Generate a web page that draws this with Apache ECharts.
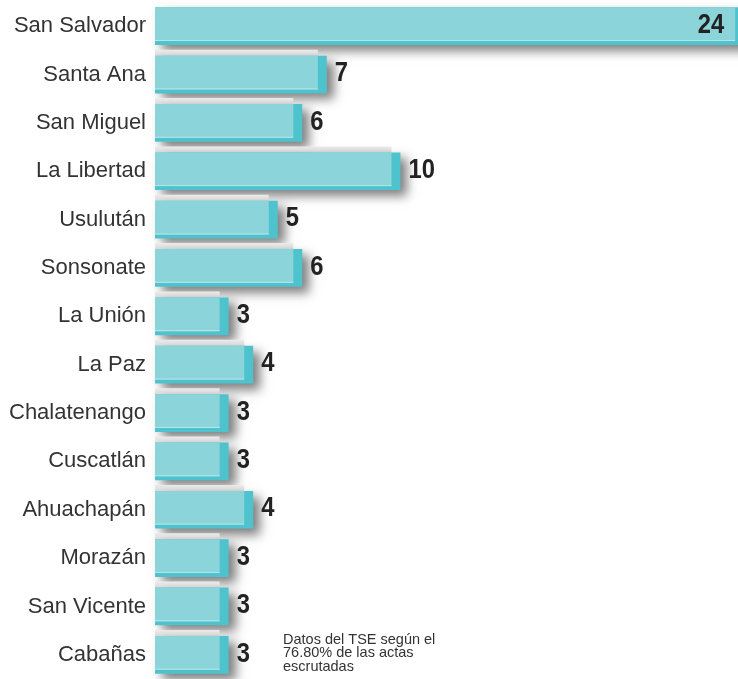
<!DOCTYPE html>
<html>
<head>
<meta charset="utf-8">
<script src="https://cdn.jsdelivr.net/npm/echarts@6/dist/echarts.min.js"></script>
<style>
  html, body { margin: 0; padding: 0; background: #fff; }
  #chart { width: 738px; height: 679px; }
</style>
</head>
<body>
<div id="chart"></div>
<script>
// diputados por departamento
const regions = ['San Salvador', 'Santa Ana', 'San Miguel', 'La Libertad', 'Usulután', 'Sonsonate',
  'La Unión', 'La Paz', 'Chalatenango', 'Cuscatlán', 'Ahuachapán', 'Morazán', 'San Vicente', 'Cabañas']
const seats = [24, 7, 6, 10, 5, 6, 3, 4, 3, 3, 4, 3, 3, 3]
const note = ['Datos del TSE según el', '76.80% de las actas', 'escrutadas']

const maxSeats = Math.max(...seats)

const chart = echarts.init(document.getElementById('chart'))

function renderBar (params, api) {
  const value = api.value(0)
  const row = api.value(1)
  const start = api.coord([0, row])
  const end = api.coord([value, row])
  const h = api.size([0, 1])[1] * 0.78
  const x0 = start[0]
  const x1 = end[0]
  const top = start[1] - h / 2
  const edge = 9
  const base = 4
  const children = []

  if (params.dataIndex > 0) {
    children.push({
      type: 'rect',
      shape: {x: x0, y: top - 6, width: x1 - edge - x0, height: 6},
      style: {
        fill: new echarts.graphic.LinearGradient(0, 0, 0, 1, [
          {offset: 0, color: '#ececec'},
          {offset: 1, color: '#dcdcdc'},
        ]),
      },
    })
  }
  children.push({
    type: 'rect',
    shape: {x: x0, y: top, width: x1 - x0, height: h},
    style: {
      fill: '#4fc3cd',
      shadowBlur: 10,
      shadowColor: 'rgba(0, 0, 0, 0.5)',
      shadowOffsetX: 7,
      shadowOffsetY: 6,
    },
  })
  children.push({
    type: 'rect',
    shape: {x: x0, y: top, width: x1 - edge - x0, height: h - base},
    style: {fill: '#8bd4da'},
  })
  children.push({
    type: 'line',
    shape: {x1: x0, y1: top + h - base - 0.5, x2: x1 - edge, y2: top + h - base - 0.5},
    style: {stroke: '#b8e6e9', lineWidth: 1},
  })

  const inside = value === maxSeats
  children.push({
    type: 'text',
    x: inside ? x1 - edge - 11 : x1 + 8,
    y: start[1] - 1,
    scaleX: 0.85,
    style: {
      text: String(value),
      align: inside ? 'right' : 'left',
      verticalAlign: 'middle',
      fill: '#222',
      font: 'bold 28px "Liberation Sans", sans-serif',
    },
  })

  return {type: 'group', children: children}
}

chart.setOption({
  animation: false,
  backgroundColor: '#fff',
  grid: {left: 155, right: 0, top: 2, bottom: -6},
  xAxis: {
    type: 'value',
    min: 0,
    max: 23.75,
    show: false,
  },
  yAxis: {
    type: 'category',
    data: regions,
    inverse: true,
    axisLine: {show: false},
    axisTick: {show: false},
    splitLine: {show: false},
    axisLabel: {
      color: '#333',
      fontSize: 22,
      fontFamily: '"Liberation Sans", sans-serif',
      margin: 9,
      padding: [0, 0, 6, 0],
    },
  },
  series: [{
    type: 'custom',
    clip: false,
    renderItem: renderBar,
    encode: {x: 0, y: 1},
    data: seats.map((v, i) => [v, i]),
  }],
  graphic: [{
    type: 'text',
    left: 283,
    top: 632,
    style: {
      text: note.join('\n'),
      fill: '#333',
      font: '14.5px "Liberation Sans", sans-serif',
      lineHeight: 13.5,
    },
  }],
})
</script>
</body>
</html>
